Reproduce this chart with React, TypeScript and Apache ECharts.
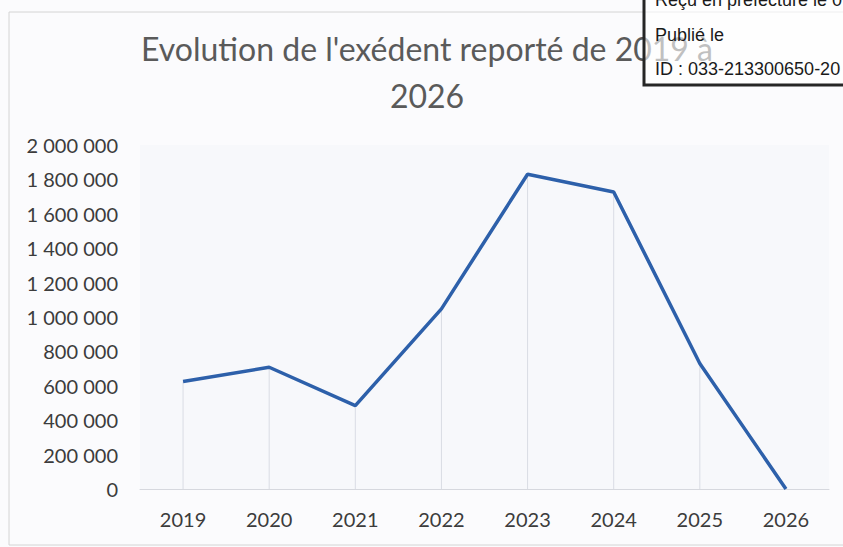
import React, { useEffect, useRef } from "react";
import * as echarts from "echarts";

const years = ["2019", "2020", "2021", "2022", "2023", "2024", "2025", "2026"];
const excedent = [625000, 708000, 485000, 1047000, 1830000, 1727000, 730000, 0];
const yTicks = { min: 0, max: 2000000, interval: 200000 };
const titleText = "Evolution de l'exédent reporté de 2019 à\n2026";
const stampLines = ["Reçu en préfecture le 0", "Publié le", "ID : 033-213300650-20"];

function fmt(v: number): string {
  return String(v).replace(/\B(?=(\d{3})+(?!\d))/g, " ");
}

export default function App() {
  const ref = useRef<HTMLDivElement>(null);
  useEffect(() => {
    if (!ref.current) return;
    const chart = echarts.init(ref.current, null, { renderer: "svg" });
    chart.setOption({
      animation: false,
      backgroundColor: "#fbfbfd",
      title: {
        text: titleText,
        left: 422,
        top: 20,
        textAlign: "center",
        textStyle: {
          fontFamily: "Lato",
          fontWeight: "normal",
          fontSize: 32,
          lineHeight: 47,
          color: "#5a5a5a",
        },
      },
      grid: {
        left: 140,
        right: 14,
        top: 145,
        bottom: 58,
        show: true,
        backgroundColor: "#f7f8fb",
        borderWidth: 0,
      },
      xAxis: {
        type: "category",
        data: years,
        boundaryGap: true,
        axisLine: { show: true, lineStyle: { color: "#d6d8de", width: 1 } },
        axisTick: { show: false },
        splitLine: { show: false },
        axisLabel: {
          fontFamily: "Lato",
          fontSize: 20,
          color: "#3c3c3c",
          margin: 20,
        },
      },
      yAxis: {
        type: "value",
        min: yTicks.min,
        max: yTicks.max,
        interval: yTicks.interval,
        axisLine: { show: false },
        axisTick: { show: false },
        splitLine: { show: false },
        axisLabel: {
          fontFamily: "Lato",
          fontSize: 20,
          color: "#3c3c3c",
          margin: 22,
          formatter: (v: number) => fmt(v),
        },
      },
      series: [
        {
          type: "bar",
          data: excedent,
          barWidth: 1,
          itemStyle: { color: "#d9dce4" },
          silent: true,
          z: 1,
        },
        {
          type: "line",
          data: excedent,
          symbol: "none",
          lineStyle: { color: "#2d60aa", width: 3.5 },
          z: 3,
        },
      ],
      graphic: [
        {
          type: "rect",
          z: 50,
          shape: { x: 9, y: 12, width: 860, height: 533 },
          style: { fill: "none", stroke: "#d4d4d4", lineWidth: 1 },
          silent: true,
        },
        {
          type: "rect",
          z: 100,
          shape: { x: 644, y: -10, width: 220, height: 95 },
          style: { fill: "rgba(255,255,255,0.62)", stroke: "#262626", lineWidth: 3 },
        },
        {
          type: "text",
          z: 101,
          x: 655,
          y: -9,
          style: { text: stampLines[0], font: "18px 'Liberation Sans'", fill: "#1a1a1a" },
        },
        {
          type: "text",
          z: 101,
          x: 655,
          y: 26,
          style: { text: stampLines[1], font: "18px 'Liberation Sans'", fill: "#1a1a1a" },
        },
        {
          type: "text",
          z: 101,
          x: 655,
          y: 60,
          style: { text: stampLines[2], font: "18px 'Liberation Sans'", fill: "#1a1a1a" },
        },
      ],
    });
    return () => chart.dispose();
  }, []);
  return (
    <div
      ref={ref}
      style={{ position: "fixed", left: 0, top: 0, width: 843, height: 547 }}
    />
  );
}
